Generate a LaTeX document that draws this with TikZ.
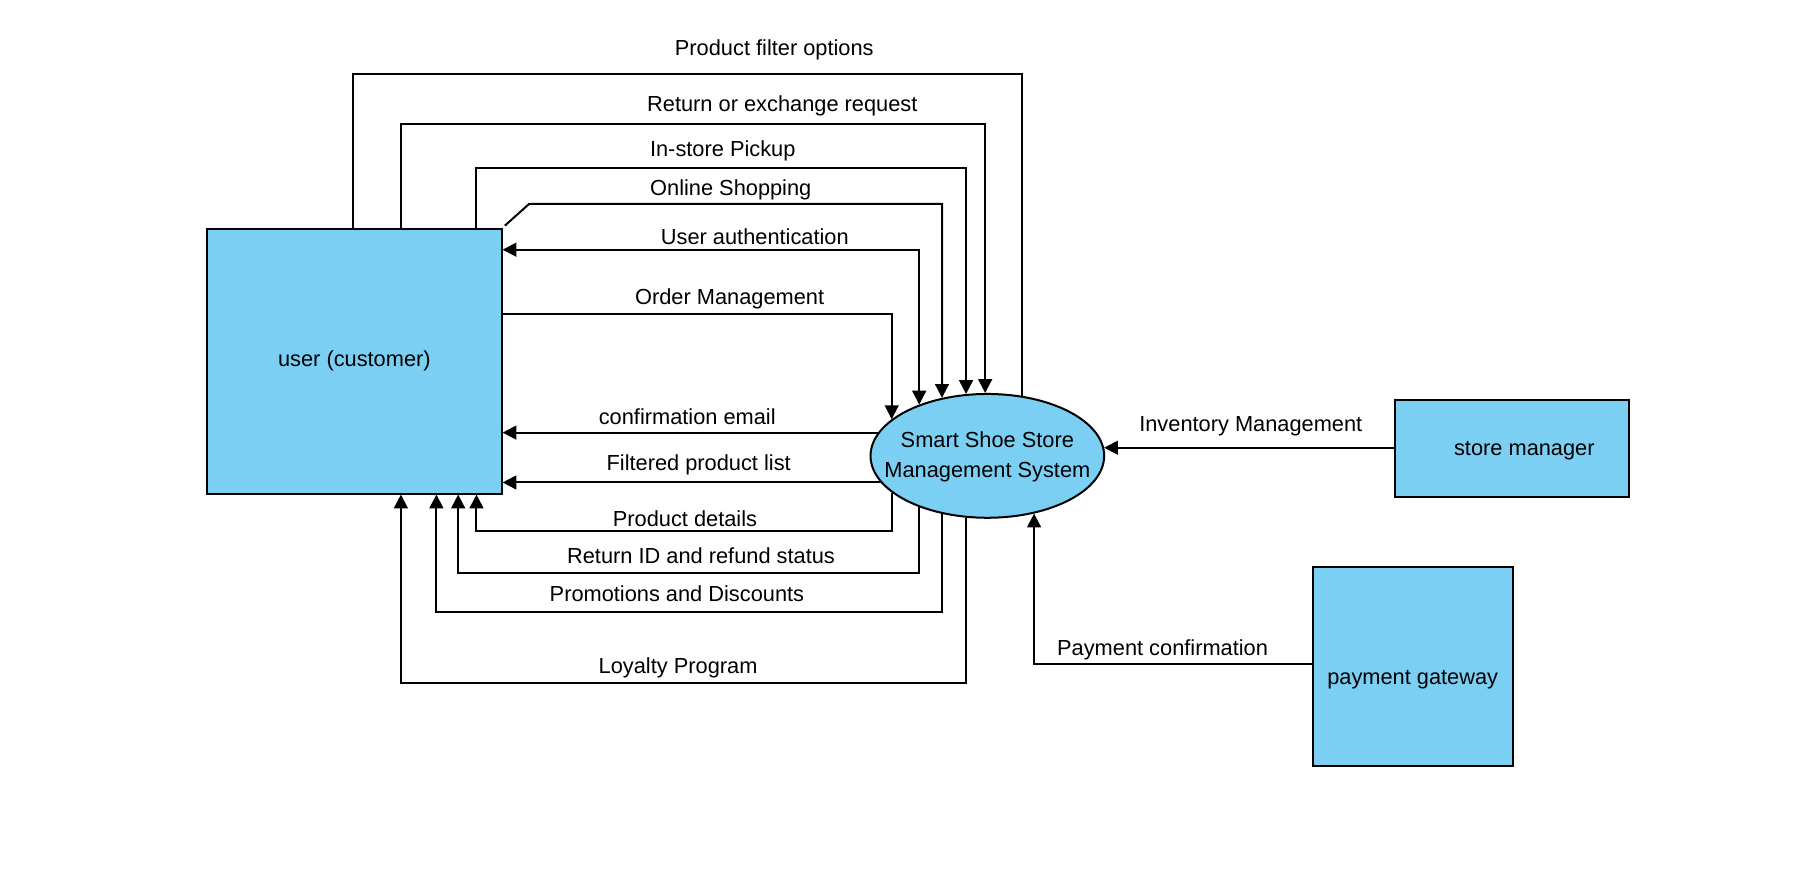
\documentclass[tikz,border=0pt]{standalone}
\usepackage{fontspec}
\setmainfont{Liberation Sans}
\usetikzlibrary{arrows.meta,shapes.geometric}
\definecolor{boxblue}{RGB}{122,207,243}
\begin{document}
\begin{tikzpicture}[x=0.5727pt,y=-0.5727pt,
  font=\fontsize{10.9}{14.9}\selectfont,
  ent/.style={draw, fill=boxblue, line width=1pt, inner sep=0pt},
  flow/.style={draw, line width=1pt},
  arr/.style={flow, -{Triangle[length=6.9pt,width=6.9pt]}},
  biarr/.style={flow, {Triangle[length=6.9pt,width=6.9pt]}-{Triangle[length=6.9pt,width=6.9pt]}},
  lbl/.style={inner sep=0pt}]
\useasboundingbox (0,0) rectangle (1568,765);
\fill[white] (0,0) rectangle (1568,765);

% entities
\node[ent, anchor=north west, minimum width=147.2pt, minimum height=132.3pt] (user) at (180,199) {user (customer)};
\node[ent, ellipse, minimum width=116.8pt, minimum height=61.9pt, label={[align=center, yshift=-0.6pt]center:Smart Shoe Store\\Management System}] (ell) at (862,398) {};
\node[ent, anchor=north west, minimum width=116.8pt, minimum height=48.7pt, label={[xshift=6.3pt, yshift=-1pt]center:store manager}] (mgr) at (1217,348) {};
\node[ent, anchor=north west, minimum width=100.2pt, minimum height=99.6pt, label={[yshift=-6.5pt]center:payment gateway}] (pay) at (1145,494) {};

% flows from user to system (top)
\draw[flow] (user.north -| 308,0) |- (ell.60.8 |- 0,65) -- (ell.60.8);
\draw[arr] (user.north -| 350,0) |- (ell.92.1 |- 0,108) -- (ell.92.1);
\draw[arr] (user.north -| 416,0) |- (ell.109.7 |- 0,147) -- (ell.109.7);
\draw[arr] ([shift={(2,-2)}]user.north east) -- (462,178) -| (ell.128.8);
\draw[biarr] (ell.143.3) |- (user.east |- 0,218);
\draw[arr] (user.east |- 0,274) -| (ell.159.3);

% flows from system to user
\draw[arr] (ell.168.1) -- (user.east |- ell.168.1);
\draw[arr] (ell.194.7) -- (user.east |- ell.194.7);
\draw[arr] (ell.-159.3) |- (416,464) -- (user.south -| 416,0);
\draw[arr] (ell.-143.3) |- (400,500) -- (user.south -| 400,0);
\draw[arr] (ell.-128.8) |- (381,534) -- (user.south -| 381,0);
\draw[arr] (ell.-109.7) |- (350,596) -- (user.south -| 350,0);

% other entities
\draw[arr] (mgr.west |- ell.4.5) -- (ell.4.5);
\draw[arr] (pay.west |- 0,580) -| (ell.-51.2);

% labels
\node[lbl] (l1) at (676,43.5) {Product filter options};
\node[lbl] (l2) at (683,92.5) {Return or exchange request};
\node[lbl] (l3) at (631,131.5) {In-store Pickup};
\node[lbl] (l4) at (638,165.5) {Online Shopping};
\node[lbl] (l5) at (659,206.5) {User authentication};
\node[lbl] (l6) at (637,260.5) {Order Management};
\node[lbl] (l7) at (600,363.5) {confirmation email};
\node[lbl] (l8) at (610,405.5) {Filtered product list};
\node[lbl] (l9) at (598,452.5) {Product details};
\node[lbl] (l10) at (612,485.5) {Return ID and refund status};
\node[lbl] (l11) at (591,518.5) {Promotions and Discounts};
\node[lbl] (l12) at (592,583.5) {Loyalty Program};
\node[lbl] (l13) at (1092,372.5) {Inventory Management};
\node[lbl] (l14) at (1015,567.5) {Payment confirmation};
\end{tikzpicture}
\end{document}
